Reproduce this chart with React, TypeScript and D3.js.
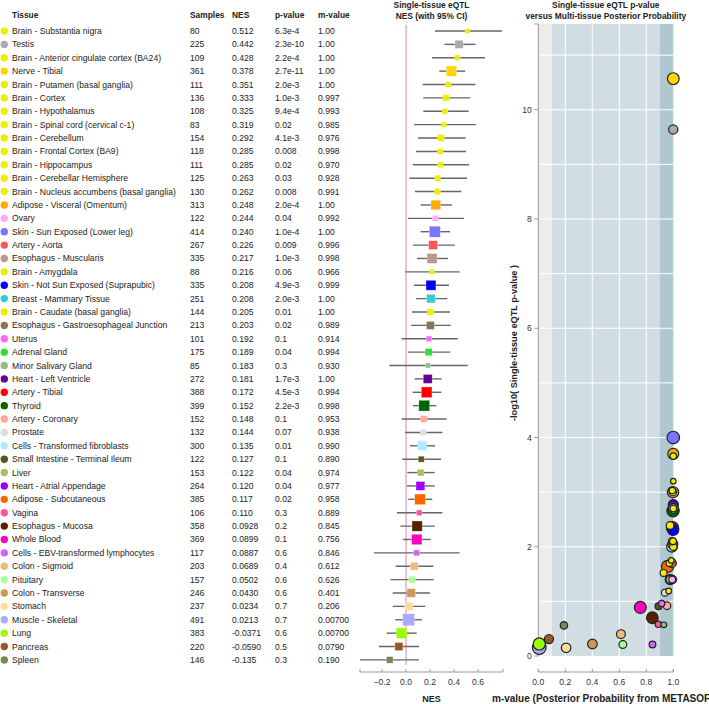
import React from "react";
import * as d3 from "d3";

const tissues = [
  "Brain - Substantia nigra", "Testis", "Brain - Anterior cingulate cortex (BA24)", "Nerve - Tibial",
  "Brain - Putamen (basal ganglia)", "Brain - Cortex", "Brain - Hypothalamus", "Brain - Spinal cord (cervical c-1)",
  "Brain - Cerebellum", "Brain - Frontal Cortex (BA9)", "Brain - Hippocampus", "Brain - Cerebellar Hemisphere",
  "Brain - Nucleus accumbens (basal ganglia)", "Adipose - Visceral (Omentum)", "Ovary", "Skin - Sun Exposed (Lower leg)",
  "Artery - Aorta", "Esophagus - Muscularis", "Brain - Amygdala", "Skin - Not Sun Exposed (Suprapubic)",
  "Breast - Mammary Tissue", "Brain - Caudate (basal ganglia)", "Esophagus - Gastroesophageal Junction", "Uterus",
  "Adrenal Gland", "Minor Salivary Gland", "Heart - Left Ventricle", "Artery - Tibial",
  "Thyroid", "Artery - Coronary", "Prostate", "Cells - Transformed fibroblasts",
  "Small Intestine - Terminal Ileum", "Liver", "Heart - Atrial Appendage", "Adipose - Subcutaneous",
  "Vagina", "Esophagus - Mucosa", "Whole Blood", "Cells - EBV-transformed lymphocytes",
  "Colon - Sigmoid", "Pituitary", "Colon - Transverse", "Stomach",
  "Muscle - Skeletal", "Lung", "Pancreas", "Spleen",
];

const colors = [
  "#EEEE00", "#AAAAAA", "#EEEE00", "#FFD700",
  "#EEEE00", "#EEEE00", "#EEEE00", "#EEEE00",
  "#EEEE00", "#EEEE00", "#EEEE00", "#EEEE00",
  "#EEEE00", "#FFAA00", "#FFAAFF", "#7777FF",
  "#FF5555", "#BB9988", "#EEEE00", "#0000FF",
  "#33CCCC", "#EEEE00", "#8B7355", "#FF66FF",
  "#33DD33", "#99BB88", "#660099", "#FF0000",
  "#006600", "#FFAA99", "#DDDDDD", "#AAEEFF",
  "#555522", "#AABB66", "#9900FF", "#FF6600",
  "#FF5599", "#552200", "#FF00BB", "#CC66FF",
  "#EEBB77", "#AAFF99", "#CC9955", "#FFDD99",
  "#AAAAFF", "#99FF00", "#995522", "#778855",
];

const samples = [
  80, 225, 109, 361, 111, 136, 108, 83, 154, 118, 111, 125, 130, 313, 122, 414,
  267, 335, 88, 335, 251, 144, 213, 101, 175, 85, 272, 388, 399, 152, 132, 300,
  122, 153, 264, 385, 106, 358, 369, 117, 203, 157, 246, 237, 491, 383, 220, 146,
];

const nesLabels = [
  "0.512", "0.442", "0.428", "0.378", "0.351", "0.333", "0.325", "0.319",
  "0.292", "0.285", "0.285", "0.263", "0.262", "0.248", "0.244", "0.240",
  "0.226", "0.217", "0.216", "0.208", "0.208", "0.205", "0.203", "0.192",
  "0.189", "0.183", "0.181", "0.172", "0.152", "0.148", "0.144", "0.135",
  "0.127", "0.122", "0.120", "0.117", "0.110", "0.0928", "0.0899", "0.0887",
  "0.0689", "0.0502", "0.0430", "0.0234", "0.0213", "-0.0371", "-0.0590", "-0.135",
];

const pLabels = [
  "6.3e-4", "2.3e-10", "2.2e-4", "2.7e-11", "2.0e-3", "1.0e-3", "9.4e-4", "0.02",
  "4.1e-3", "0.008", "0.02", "0.03", "0.008", "2.0e-4", "0.04", "1.0e-4",
  "0.009", "1.0e-3", "0.06", "4.9e-3", "2.0e-3", "0.01", "0.02", "0.1",
  "0.04", "0.3", "1.7e-3", "4.5e-3", "2.2e-3", "0.1", "0.07", "0.01",
  "0.1", "0.04", "0.04", "0.02", "0.3", "0.2", "0.1", "0.6",
  "0.4", "0.6", "0.6", "0.7", "0.7", "0.6", "0.5", "0.3",
];

const mLabels = [
  "1.00", "1.00", "1.00", "1.00", "1.00", "0.997", "0.993", "0.985",
  "0.976", "0.998", "0.970", "0.928", "0.991", "1.00", "0.992", "1.00",
  "0.996", "0.998", "0.966", "0.999", "1.00", "1.00", "0.989", "0.914",
  "0.994", "0.930", "1.00", "0.994", "0.998", "0.953", "0.938", "0.990",
  "0.890", "0.974", "0.977", "0.958", "0.889", "0.845", "0.756", "0.846",
  "0.612", "0.626", "0.401", "0.206", "0.00700", "0.00700", "0.0790", "0.190",
];

// 95% CI bounds
const ciLow = [
  0.242, 0.32, 0.217, 0.278, 0.139, 0.144, 0.144, 0.067, 0.1, 0.083, 0.058, 0.028, 0.075, 0.122, 0.017, 0.122,
  0.058, 0.092, -0.008, 0.067, 0.083, 0.05, 0.042, -0.036, 0.017, -0.139, 0.072, 0.056, 0.058, -0.036, -0.008, 0.033,
  -0.031, 0.011, 0.006, 0.019, -0.075, -0.047, -0.025, -0.267, -0.086, -0.128, -0.111, -0.111, -0.089, -0.161, -0.225, -0.383,
];
const ciHigh = [
  0.8, 0.58, 0.658, 0.492, 0.578, 0.536, 0.522, 0.583, 0.497, 0.5, 0.525, 0.508, 0.461, 0.383, 0.483, 0.367,
  0.406, 0.35, 0.447, 0.358, 0.344, 0.367, 0.372, 0.431, 0.369, 0.514, 0.297, 0.294, 0.253, 0.339, 0.303, 0.242,
  0.292, 0.239, 0.239, 0.219, 0.303, 0.239, 0.206, 0.447, 0.228, 0.231, 0.2, 0.161, 0.133, 0.089, 0.108, 0.108,
];

// -log10(p)
const negLogP = [
  3.2, 9.64, 3.66, 10.57, 2.7, 3.0, 3.03, 1.75, 2.39, 2.1, 1.7, 1.52, 2.1, 3.7, 1.4, 4.0,
  2.05, 3.0, 1.19, 2.31, 2.7, 2.0, 1.7, 0.96, 1.4, 0.57, 2.77, 2.35, 2.66, 0.92, 1.16, 2.0,
  0.91, 1.4, 1.4, 1.64, 0.58, 0.7, 0.89, 0.21, 0.4, 0.21, 0.22, 0.15, 0.155, 0.22, 0.31, 0.56,
];

const forestTicks = [-0.2, 0, 0.2, 0.4, 0.6];
const mTicks = [0, 0.2, 0.4, 0.6, 0.8, 1.0];
const pTicks = [0, 2, 4, 6, 8, 10];
const pGrid = [1, 2, 3, 4, 5, 6, 7, 8, 9, 10, 11];
const mGrid = [0.2, 0.4, 0.6, 0.8];
const bands = [
  { from: 0, to: 0.1, fill: "#ececec" },
  { from: 0.1, to: 0.9, fill: "#d0dee4" },
  { from: 0.9, to: 1.0, fill: "#b1c7cf" },
];

const FONT = "'Liberation Sans', Arial, Helvetica, sans-serif";
const FS = 8.6;

export default function App() {
  const W = 709, H = 704;
  const rowY = d3.scalePoint<number>().domain(d3.range(tissues.length)).range([31, 659.9]);
  const fx = d3.scaleLinear().domain([-0.383, 0.808]).range([360, 503]);
  const side = d3.scaleSqrt().domain([0, 500]).range([0, 12.1]);
  const sx = d3.scaleLinear().domain([0, 1]).range([538.3, 673.3]);
  const sy = d3.scaleLinear().domain([0, 11.57]).range([656, 24]);
  const rad = d3.scaleSqrt().domain([0, 500]).range([0, 6.9]);
  const axisY = 672;
  const nes = nesLabels.map((s) => parseFloat(s));
  const mv = mLabels.map((s) => parseFloat(s));
  const order = d3.range(tissues.length).sort((a, b) => samples[b] - samples[a]);
  const cols = [
    { x: 190, h: "Samples", v: (i: number) => String(samples[i]) },
    { x: 232, h: "NES", v: (i: number) => nesLabels[i] },
    { x: 275, h: "p-value", v: (i: number) => pLabels[i] },
    { x: 318, h: "m-value", v: (i: number) => mLabels[i] },
  ];
  const [fx0, fx1] = fx.range();
  const [sx0, sx1] = sx.range();

  return (
    <svg width={W} height={H} style={{ position: "absolute", left: 0, top: 0 }} fontFamily={FONT} fontSize={FS}>
      <rect width={W} height={H} fill="#fff" />
      {/* Table */}
      <text x={12} y={17.5} fontWeight="bold" fill="#222" fontSize={8.4}>Tissue</text>
      {cols.map((c) => (
        <text key={c.h} x={c.x} y={17.5} fontWeight="bold" fill="#222" fontSize={8.4}>{c.h}</text>
      ))}
      {tissues.map((t, i) => (
        <g key={t}>
          <circle cx={4.3} cy={rowY(i)} r={3.7} fill={colors[i]} />
          <text x={12} y={(rowY(i) as number) + 3} fill="#222">{t}</text>
          {cols.map((c) => (
            <text key={c.h} x={c.x} y={(rowY(i) as number) + 3} fill="#222">{c.v(i)}</text>
          ))}
        </g>
      ))}

      {/* Forest plot */}
      <text x={(fx0 + fx1) / 2} y={8} textAnchor="middle" fontWeight="bold" fill="#222" fontSize={8.4}>Single-tissue eQTL</text>
      <text x={(fx0 + fx1) / 2} y={19} textAnchor="middle" fontWeight="bold" fill="#222" fontSize={8.4}>NES (with 95% CI)</text>
      <line x1={fx(0)} x2={fx(0)} y1={25} y2={665} stroke="#f2a2c4" strokeWidth={1.4} />
      {tissues.map((t, i) => {
        const y = rowY(i) as number;
        const s = side(samples[i]);
        return (
          <g key={t}>
            <line x1={fx(ciLow[i])} x2={fx(ciHigh[i])} y1={y} y2={y} stroke="#666" strokeWidth={1.4} />
            <rect x={fx(nes[i]) - s / 2} y={y - s / 2} width={s} height={s} fill={colors[i]}
              stroke="#ffffff" strokeOpacity={0.5} strokeWidth={0.6} />
          </g>
        );
      })}
      <path d={`M${fx0},${axisY - 3}V${axisY}H${fx1}V${axisY - 3}`} fill="none" stroke="#999" />
      {forestTicks.map((v) => (
        <g key={v}>
          <line x1={fx(v)} x2={fx(v)} y1={axisY} y2={axisY - 3} stroke="#999" />
          <text x={fx(v)} y={684.5} textAnchor="middle" fill="#333">{d3.format(".1f")(v)}</text>
        </g>
      ))}
      <text x={(fx0 + fx1) / 2} y={702} textAnchor="middle" fontWeight="bold" fill="#222" fontSize={9}>NES</text>

      {/* Scatter plot */}
      <text x={(sx0 + sx1) / 2} y={8} textAnchor="middle" fontWeight="bold" fill="#222" fontSize={8.4}>Single-tissue eQTL p-value</text>
      <text x={(sx0 + sx1) / 2} y={19} textAnchor="middle" fontWeight="bold" fill="#222" fontSize={8.4}>versus Multi-tissue Posterior Probability</text>
      {bands.map((b) => (
        <rect key={b.from} x={sx(b.from)} y={sy(11.57)} width={sx(b.to) - sx(b.from)} height={sy(0) - sy(11.57)} fill={b.fill} />
      ))}
      {pGrid.map((v) => (
        <line key={v} x1={sx0} x2={sx1} y1={sy(v)} y2={sy(v)} stroke="#fff" strokeWidth={1} />
      ))}
      {mGrid.map((v) => (
        <line key={v} x1={sx(v)} x2={sx(v)} y1={sy(11.57)} y2={sy(0)} stroke="#fff" strokeWidth={1} />
      ))}
      <path d={`M${sx0 - 4},${sy(11.57)}H${sx0}V${sy(0)}`} fill="none" stroke="#999" />
      {pTicks.map((v) => (
        <g key={v}>
          <line x1={sx0 - 4} x2={sx0} y1={sy(v)} y2={sy(v)} stroke="#999" />
          <text x={sx0 - 6.5} y={sy(v) + 3} textAnchor="end" fill="#333">{v}</text>
        </g>
      ))}
      <text transform={`translate(516.5,${(sy(0) + sy(11.57)) / 2 + 3}) rotate(-90)`} textAnchor="middle" fontWeight="bold" fill="#222" fontSize={9.2}>
        -log10( Single-tissue eQTL p-value )
      </text>
      {order.map((i) => (
        <circle key={tissues[i]} cx={sx(mv[i])} cy={sy(negLogP[i])} r={rad(samples[i])}
          fill={colors[i]} stroke="#222" strokeWidth={1.2} />
      ))}
      <path d={`M${sx0},${axisY - 3}V${axisY}H${sx1}V${axisY - 3}`} fill="none" stroke="#999" />
      {mTicks.map((v) => (
        <g key={v}>
          <line x1={sx(v)} x2={sx(v)} y1={axisY} y2={axisY - 3} stroke="#999" />
          <text x={sx(v)} y={684.5} textAnchor="middle" fill="#333">{d3.format(".1f")(v)}</text>
        </g>
      ))}
      <text x={(sx0 + sx1) / 2} y={702} textAnchor="middle" fontWeight="bold" fill="#222" fontSize={10}>
        m-value (Posterior Probability from METASOFT)
      </text>
    </svg>
  );
}
